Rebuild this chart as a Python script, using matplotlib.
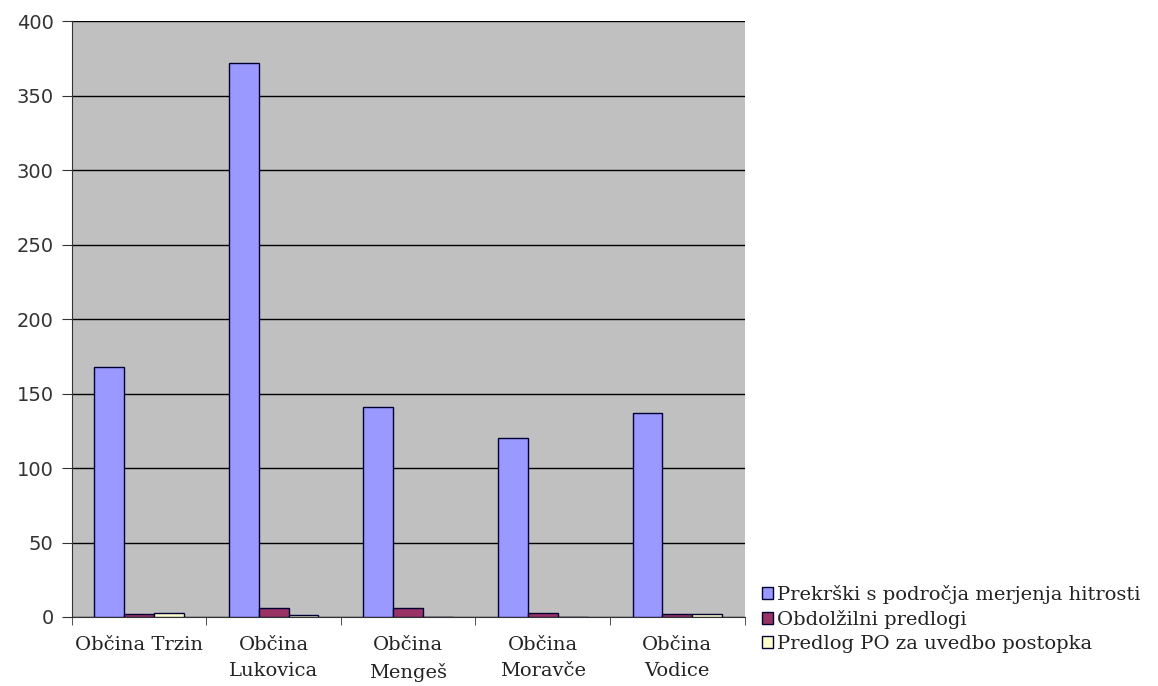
import matplotlib.pyplot as plt
import numpy as np

categories = ["Občina Trzin", "Občina\nLukovica", "Občina\nMengeš", "Občina\nMoravče", "Občina\nVodice"]
series_names = [
    "Prekrški s področja merjenja hitrosti",
    "Obdolžilni predlogi",
    "Predlog PO za uvedbo postopka",
]
speeding = [168, 372, 141, 120, 137]
accusations = [2, 6, 6, 3, 2]
proceedings = [3, 1, 0, 0, 2]
colors = ["#9999FF", "#993366", "#FFFFCC"]

plt.rcParams["font.family"] = ["DejaVu Serif"]

fig = plt.figure(figsize=(11.58, 6.86), dpi=100)
ax = fig.add_axes([0.062, 0.1006, 0.581, 0.8685])
ax.set_facecolor("#C0C0C0")

x = np.arange(len(categories))
width = 0.222
for i, (vals, name, c) in enumerate(zip([speeding, accusations, proceedings], series_names, colors)):
    ax.bar(x + (i - 1) * width, vals, width, color=c, edgecolor="#000033",
           linewidth=1, label=name, zorder=3)

ax.set_ylim(0, 400)
ax.set_xlim(-0.5, len(categories) - 0.5)
ax.set_yticks(range(0, 401, 50))
ax.yaxis.grid(True, color="black", linewidth=1, zorder=0)
ax.set_axisbelow(True)

ax.set_xticks(x)
ax.set_xticklabels(categories, fontsize=14, linespacing=1.55, color="#222222")
ax.tick_params(axis="x", which="major", length=0, pad=14)
ax.set_xticks(np.arange(-0.5, len(categories), 1), minor=True)
ax.tick_params(axis="x", which="minor", length=6, direction="out", color="#333333")
ax.tick_params(axis="y", length=7, direction="out", labelsize=14, color="#333333",
               labelcolor="#333333", pad=6)
for lab in ax.get_yticklabels():
    lab.set_family("DejaVu Sans")

for s in ["top", "right"]:
    ax.spines[s].set_visible(False)
ax.spines["left"].set_color("#333333")
ax.spines["bottom"].set_color("#333333")

fig.legend(loc="lower left", bbox_to_anchor=(0.643, 0.023), frameon=False,
           fontsize=14, handlelength=0.55, handleheight=0.55, handletextpad=0.2,
           labelspacing=0.3, labelcolor="#222222")

fig.savefig("out.png", dpi=100)
